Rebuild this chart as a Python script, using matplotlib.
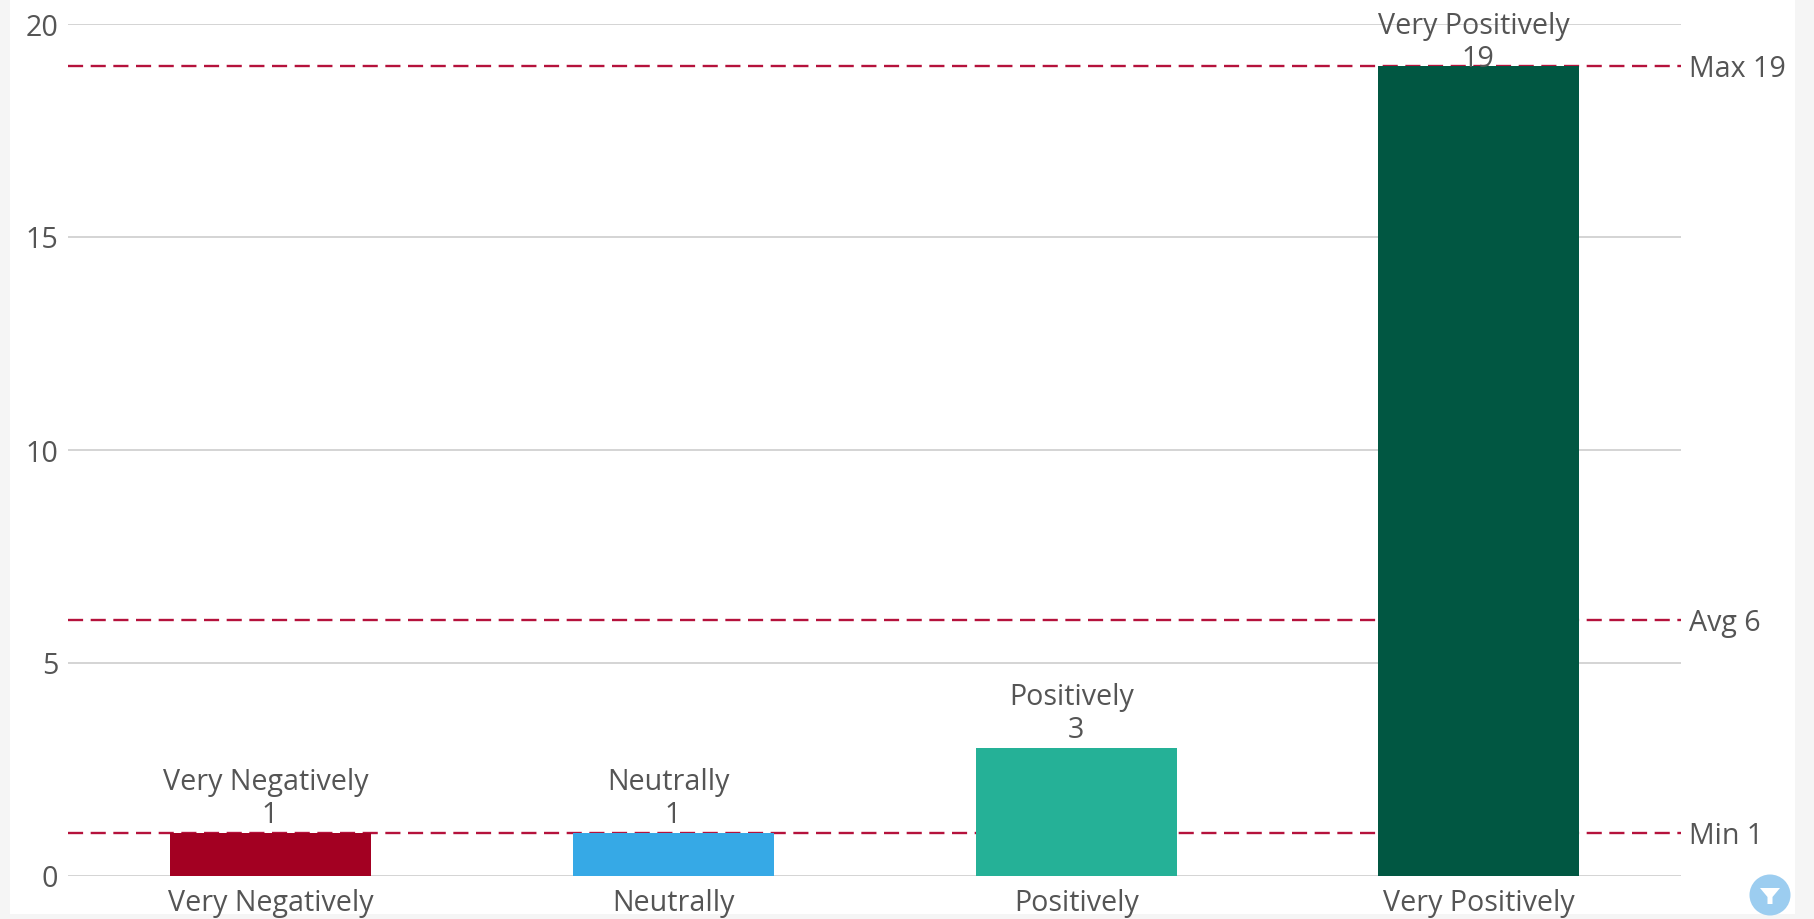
import matplotlib
matplotlib.use('Agg')
import matplotlib.pyplot as plt
from matplotlib.patches import Circle, Polygon, Rectangle

categories = ['Very Negatively', 'Neutrally', 'Positively', 'Very Positively']
values = [1, 1, 3, 19]
bar_colors = ['#A30022', '#36A9E6', '#25B197', '#015742']
y_ticks = [0, 5, 10, 15, 20]
ref_values = [19, 6, 1]
ref_labels = ['Max 19', 'Avg 6', 'Min 1']

W, H = 1815, 920
TEXT = '#555555'
RED = '#B5123C'
FS = 20.6

plt.rcParams['font.family'] = ['Open Sans', 'DejaVu Sans']

fig = plt.figure(figsize=(W / 100, H / 100), dpi=100, facecolor='#F5F5F5')
# white card behind the chart
fig.add_artist(Rectangle((10 / W, 1 - 915 / H), 1785 / W, 915 / H,
                         transform=fig.transFigure, fc='white', ec='none', zorder=-1))

ax = fig.add_axes([68 / W, 1 - 876.5 / H, 1613 / W, 852 / H])
ax.patch.set_alpha(0)
ax.set_xlim(-0.503, 3.5015)
ax.set_ylim(0, 20)
for s in ax.spines.values():
    s.set_visible(False)

ax.set_yticks(y_ticks)
ax.set_yticklabels([str(v) for v in y_ticks], fontsize=FS, color=TEXT)
ax.set_xticks(range(len(categories)))
ax.set_xticklabels(categories, fontsize=FS, color=TEXT)
ax.tick_params(axis='both', length=0)
ax.tick_params(axis='y', pad=7)
ax.tick_params(axis='x', pad=9)
ax.grid(axis='y', color='#D4D4D4', linewidth=1.4, zorder=1)
ax.set_axisbelow(True)

for val, lab in zip(ref_values, ref_labels):
    ax.axhline(val, color=RED, linewidth=1.7, dashes=(6.4, 3.2),
               dash_capstyle='butt', zorder=2, clip_on=False)
    ax.annotate(lab, (1, val), xycoords=ax.get_yaxis_transform(), xytext=(6, 1),
                textcoords='offset points', fontsize=FS, color=TEXT,
                ha='left', va='center_baseline', annotation_clip=False)

ax.bar(range(len(values)), values, width=0.499, color=bar_colors, zorder=3)

for i, (cat, val) in enumerate(zip(categories, values)):
    # the tallest bar's label gets pushed down onto the bar top
    drop = 8 if val == max(values) else 0
    ax.annotate(str(val), (i, val), xytext=(-0.5, 3 - drop), textcoords='offset points',
                fontsize=FS, color=TEXT, ha='center', va='bottom', zorder=4)
    ax.annotate(cat, (i, val), xytext=(-3.5, 26.5 - drop), textcoords='offset points',
                fontsize=FS, color=TEXT, ha='center', va='bottom', zorder=4,
                annotation_clip=False)

# filter button in the corner
cx, cy, r = 1770, 896, 20.5
overlay = fig.add_axes([0, 0, 1, 1], facecolor='none')
overlay.set_xlim(0, W)
overlay.set_ylim(H, 0)
overlay.axis('off')
overlay.add_patch(Circle((cx, cy), r, fc='#9CCDF0', ec='none'))
overlay.add_patch(Polygon([(cx - 10, cy - 7), (cx + 10, cy - 7), (cx + 2.5, cy + 2),
                           (cx + 2.5, cy + 9), (cx - 2.5, cy + 9), (cx - 2.5, cy + 2)],
                          closed=True, fc='white', ec='none'))

fig.savefig('out.png', dpi=100, facecolor=fig.get_facecolor())
